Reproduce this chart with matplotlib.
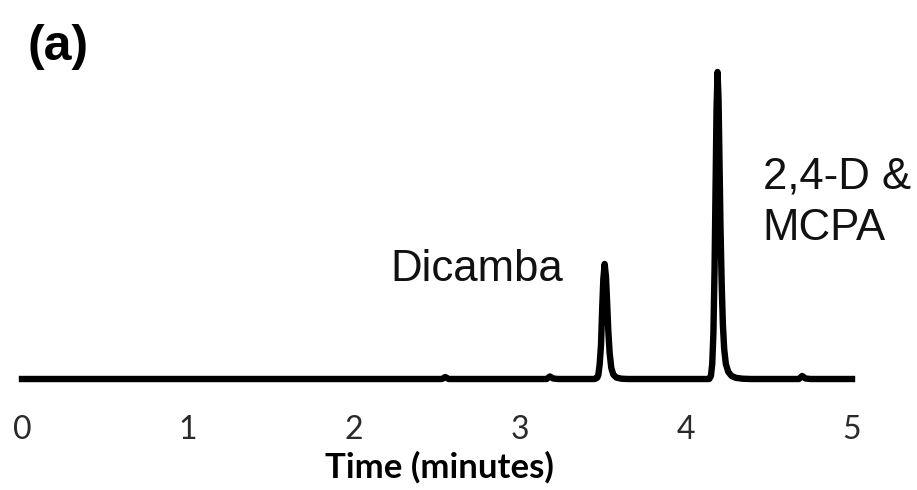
import matplotlib
matplotlib.use("Agg")
import matplotlib.pyplot as plt

# chromatogram trace (time in minutes, signal in arbitrary units)
time = [0.0, 2.53, 2.55, 2.57, 3.16, 3.18, 3.20, 3.23,
        3.45, 3.465, 3.472, 3.48, 3.488, 3.495, 3.502, 3.51, 3.518, 3.525,
        3.532, 3.54, 3.55, 3.562, 3.58, 3.61, 3.65,
        4.14, 4.15, 4.158, 4.165, 4.172, 4.178, 4.184, 4.19, 4.196, 4.202,
        4.208, 4.215, 4.222, 4.23, 4.24, 4.255, 4.275, 4.30, 4.34, 4.39,
        4.68, 4.70, 4.72, 4.75, 5.0]
signal = [0, 0, 2, 0, 0, 2.5, 0.5, 0,
          0, 1.3, 4, 15, 34, 70, 100, 115, 102, 76,
          48, 26, 11, 4.5, 1.5, 0.3, 0,
          0, 3, 15, 45, 110, 190, 270, 307, 280, 215,
          150, 95, 55, 30, 15, 7, 3, 1.2, 0.3, 0,
          0, 3, 0.5, 0, 0]

ticks = [0, 1, 2, 3, 4, 5]
tick_labels = ["0", "1", "2", "3", "4", "5"]
peak_labels = ["Dicamba", "2,4-D &\nMCPA"]
label_pos = [(2.217, 98), (4.462, 139)]

W, H = 917, 490
fig = plt.figure(figsize=(W / 100, H / 100), dpi=100)
ax = fig.add_axes([22 / W, (H - 379) / H, 830 / W, 310 / H])
ax.plot(time, signal, color="black", lw=4.6, solid_joinstyle="round",
        solid_capstyle="projecting", clip_on=False)
ax.set_xlim(0, 5)
ax.set_ylim(0, 310)
for s in ax.spines.values():
    s.set_visible(False)
ax.set_yticks([])
ax.set_xticks(ticks)
ax.set_xticklabels(tick_labels, family="Lato", fontsize=23, color="#2a2a2a")
ax.tick_params(axis="x", length=0, pad=26)

for txt, (x, y) in zip(peak_labels, label_pos):
    ax.text(x, y, txt, family="Liberation Sans", fontsize=31.5, ha="left",
            va="baseline", linespacing=1.32, color="#111111")

fig.text(439 / W, (H - 478) / H, "Time (minutes)", family="Lato", weight="bold",
         fontsize=25, ha="center", va="baseline")
fig.text(27 / W, (H - 60) / H, "(a)", family="Liberation Sans", weight="bold",
         fontsize=36, ha="left", va="baseline")

fig.savefig("out.png", dpi=100)
